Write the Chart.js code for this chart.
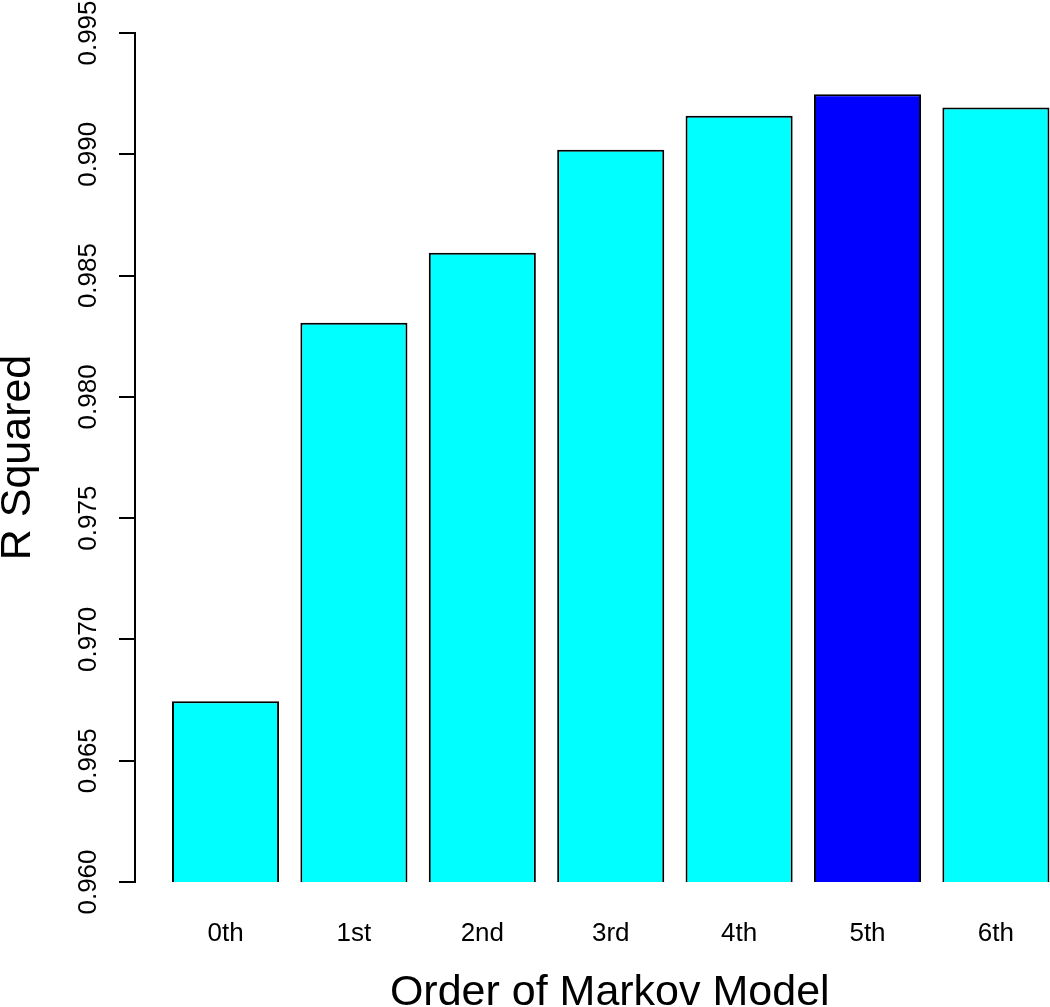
<!DOCTYPE html>
<html>
<head>
<meta charset="utf-8">
<script src="https://cdn.jsdelivr.net/npm/chart.js@4/dist/chart.umd.min.js"></script>
<style>
html,body{margin:0;padding:0;background:#fff;overflow:hidden;}
canvas{display:block;}
</style>
</head>
<body>
<canvas id="chart" width="1090" height="1007"></canvas>
<script>
const orders=["0th","1st","2nd","3rd","4th","5th","6th"];
const rSquared=[0.96745,0.98305,0.98594,0.99019,0.99159,0.99248,0.99193];
const barColors=["#00ffff","#00ffff","#00ffff","#00ffff","#00ffff","#0000ff","#00ffff"];
const yTicks=[0.960,0.965,0.970,0.975,0.980,0.985,0.990,0.995];

Chart.defaults.font.family="'Liberation Sans', Arial, Helvetica, sans-serif";
Chart.defaults.color="#000";

const points=rSquared.map((v,i)=>({x:i,y:v}));

new Chart(document.getElementById("chart"),{
type:"bar",
data:{
datasets:[{
data:points,
backgroundColor:barColors,
borderColor:"#000",
borderWidth:2,
categoryPercentage:1,
barPercentage:0.834
}]
},
options:{
responsive:false,
animation:false,
layout:{padding:{left:0,right:5.5,top:33,bottom:0}},
plugins:{legend:{display:false},tooltip:{enabled:false}},
scales:{
x:{
type:"linear",
offset:false,
min:-0.705,
max:6.69,
grid:{display:false},
border:{display:false},
afterFit:function(s){s.height=125;},
ticks:{
stepSize:1,
includeBounds:false,
autoSkip:false,
padding:28,
font:{size:26},
callback:function(v){return orders[v]!==undefined?orders[v]:"";}
},
title:{
display:true,
text:"Order of Markov Model",
font:{size:43},
padding:{top:0,bottom:-12}
}
},
y:{
min:yTicks[0],
max:yTicks[yTicks.length-1],
afterFit:function(s){s.width=135;},
afterBuildTicks:function(s){s.ticks=yTicks.map(v=>({value:v}));},
grid:{display:true,drawOnChartArea:false,drawTicks:true,tickLength:16,color:"#000",lineWidth:2},
border:{display:true,color:"#000",width:2},
ticks:{
autoSkip:false,
minRotation:90,
maxRotation:90,
crossAlign:"center",
padding:-2,
font:{size:26},
callback:function(v){return Number(v).toFixed(3);}
},
title:{
display:true,
text:"R Squared",
font:{size:43},
padding:{top:-8,bottom:0}
}
}
}
}
});
</script>
</body>
</html>
